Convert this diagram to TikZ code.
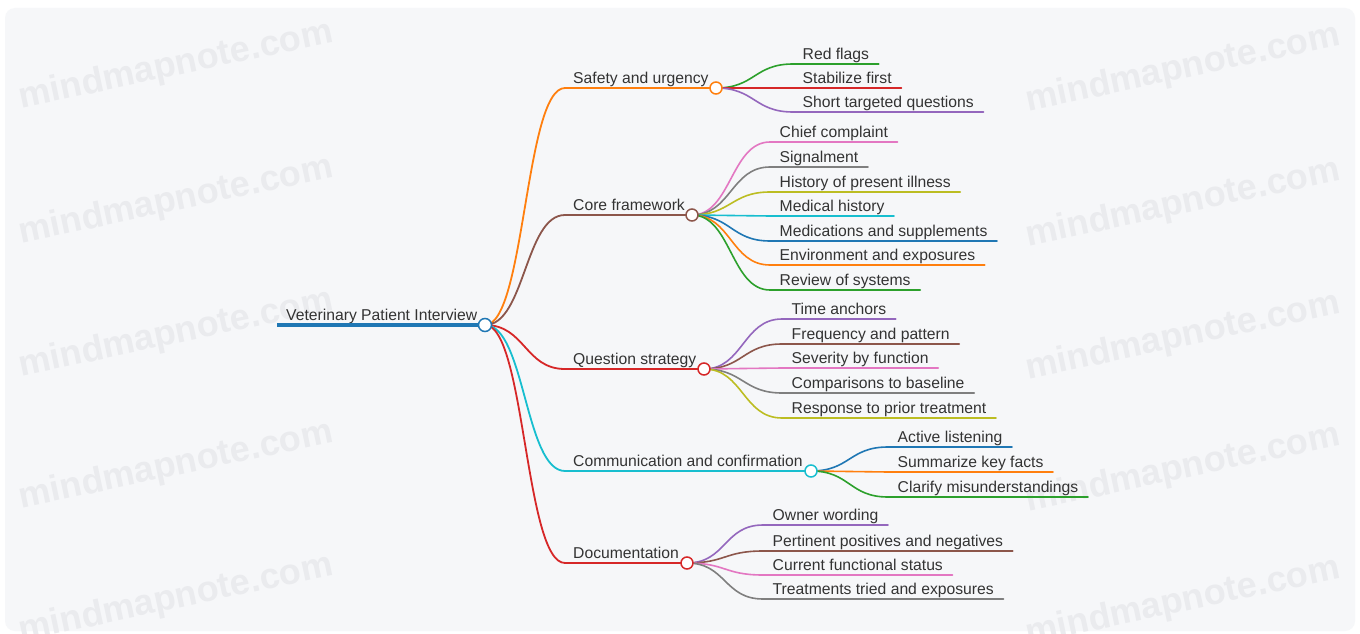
\documentclass[tikz,border=0pt]{standalone}
\usepackage{fontspec}
\setmainfont{Liberation Sans}
\definecolor{cblue}{HTML}{1F77B4}
\definecolor{corange}{HTML}{FF7F0E}
\definecolor{cgreen}{HTML}{2CA02C}
\definecolor{cred}{HTML}{D62728}
\definecolor{cpurple}{HTML}{9467BD}
\definecolor{cbrown}{HTML}{8C564B}
\definecolor{cpink}{HTML}{E377C2}
\definecolor{cgray}{HTML}{7F7F7F}
\definecolor{colive}{HTML}{BCBD22}
\definecolor{ccyan}{HTML}{17BECF}
\definecolor{txt}{HTML}{333333}
\definecolor{card}{HTML}{F6F7F9}
\definecolor{wmgray}{HTML}{EAEBEE}
\tikzset{
  leaf/.style={anchor=south west, inner xsep=9.5pt, inner ysep=4.5pt, text depth=0pt, text=txt, font=\fontsize{15.7}{18}\selectfont},
  topic/.style={leaf, inner xsep=8pt},
  dot/.style={circle, draw=#1, fill=white, line width=1.5pt, inner sep=0pt, minimum size=12pt},
  wmark/.style={text=wmgray, rotate=12, font=\bfseries\fontsize{36}{36}\selectfont},
}
\def\branch[#1](#2)(#3){\draw[#1] (#2) .. controls +(39,0) and +(-39,0) .. (#3.south west) -- (#3.south east);}
\def\topicline[#1](#2)(#3){\draw[#1] (root) .. controls +(40,0) and +(-40,0) .. (#2.south west) -- (#3);}

\begin{document}
\begin{tikzpicture}[x=1pt, y=-1pt, line cap=round]
		%%%%% START %%%%%
		\useasboundingbox (0,0) rectangle (1360,634);
		\fill[white] (0,0) rectangle (1360,634);
		\fill[card, rounded corners=10pt] (5,8) rectangle (1355,631);
		
		\node[wmark] (wm1) at (176,66) {mindmapnote.com};
		\node[wmark] (wm2) at (176,201) {mindmapnote.com};
		\node[wmark] (wm3) at (176,334) {mindmapnote.com};
		\node[wmark] (wm4) at (176,466) {mindmapnote.com};
		\node[wmark] (wm5) at (176,599) {mindmapnote.com};
		\node[wmark] (wm6) at (1183,69) {mindmapnote.com};
		\node[wmark] (wm7) at (1183,204) {mindmapnote.com};
		\node[wmark] (wm8) at (1183,337) {mindmapnote.com};
		\node[wmark] (wm9) at (1183,469) {mindmapnote.com};
		\node[wmark] (wm10) at (1183,602) {mindmapnote.com};
		
		% root
		\node[leaf, inner xsep=9pt, inner ysep=4pt] (title) at (277,325) {Veterinary Patient Interview};
		\coordinate (root) at (485,325);
		\draw[cblue, line width=4pt, line cap=butt] (title.south west) -- (root);
		
		% first level
		\node[topic] (safety) at (565,88) {Safety and urgency};
		\node[topic] (core) at (565,215) {Core framework};
		\node[topic] (question) at (565,369) {Question strategy};
		\node[topic] (comm) at (565,471) {Communication and confirmation};
		\node[topic] (docu) at (565,563) {Documentation};
		\coordinate (safetyDot) at (716,88);
		\coordinate (coreDot) at (692,215);
		\coordinate (questionDot) at (704,369);
		\coordinate (commDot) at (811,471);
		\coordinate (docuDot) at (687,563);
		
		\topicline[corange, line width=1.8pt](safety)(safetyDot);
		\topicline[cbrown, line width=1.8pt](core)(coreDot);
		\topicline[cred, line width=1.8pt](question)(questionDot);
		\topicline[ccyan, line width=1.8pt](comm)(commDot);
		\topicline[cred, line width=1.8pt](docu)(docuDot);
		
		% second level
		\node[leaf] (flags) at (793,64) {Red flags};
		\node[leaf] (stab) at (793,88) {Stabilize first};
		\node[leaf] (short) at (793,112) {Short targeted questions};
		\branch[cgreen, line width=1.6pt](safetyDot)(flags);
		\branch[cred, line width=1.6pt](safetyDot)(stab);
		\branch[cpurple, line width=1.6pt](safetyDot)(short);
		
		\node[leaf] (chief) at (770,142) {Chief complaint};
		\node[leaf] (signal) at (770,167) {Signalment};
		\node[leaf] (hpi) at (770,192) {History of present illness};
		\node[leaf] (medhx) at (770,216) {Medical history};
		\node[leaf] (meds) at (770,241) {Medications and supplements};
		\node[leaf] (env) at (770,265) {Environment and exposures};
		\node[leaf] (ros) at (770,290) {Review of systems};
		\branch[cpink, line width=1.6pt](coreDot)(chief);
		\branch[cgray, line width=1.6pt](coreDot)(signal);
		\branch[colive, line width=1.6pt](coreDot)(hpi);
		\branch[ccyan, line width=1.6pt](coreDot)(medhx);
		\branch[cblue, line width=1.6pt](coreDot)(meds);
		\branch[corange, line width=1.6pt](coreDot)(env);
		\branch[cgreen, line width=1.6pt](coreDot)(ros);
		
		\node[leaf] (anchors) at (782,319) {Time anchors};
		\node[leaf] (freq) at (782,344) {Frequency and pattern};
		\node[leaf] (sev) at (782,368) {Severity by function};
		\node[leaf] (comp) at (782,393) {Comparisons to baseline};
		\node[leaf] (resp) at (782,418) {Response to prior treatment};
		\branch[cpurple, line width=1.6pt](questionDot)(anchors);
		\branch[cbrown, line width=1.6pt](questionDot)(freq);
		\branch[cpink, line width=1.6pt](questionDot)(sev);
		\branch[cgray, line width=1.6pt](questionDot)(comp);
		\branch[colive, line width=1.6pt](questionDot)(resp);
		
		\node[leaf] (listen) at (888,447) {Active listening};
		\node[leaf] (summ) at (888,472) {Summarize key facts};
		\node[leaf] (clar) at (888,497) {Clarify misunderstandings};
		\branch[cblue, line width=1.6pt](commDot)(listen);
		\branch[corange, line width=1.6pt](commDot)(summ);
		\branch[cgreen, line width=1.6pt](commDot)(clar);
		
		\node[leaf] (owner) at (763,525) {Owner wording};
		\node[leaf] (pert) at (763,551) {Pertinent positives and negatives};
		\node[leaf] (func) at (763,575) {Current functional status};
		\node[leaf] (tried) at (763,599) {Treatments tried and exposures};
		\branch[cpurple, line width=1.6pt](docuDot)(owner);
		\branch[cbrown, line width=1.6pt](docuDot)(pert);
		\branch[cpink, line width=1.6pt](docuDot)(func);
		\branch[cgray, line width=1.6pt](docuDot)(tried);
		
		% dots on top
		\node[dot=cblue, minimum size=13pt] (rootC) at (root) {};
		\node[dot=corange] (safetyC) at (safetyDot) {};
		\node[dot=cbrown] (coreC) at (coreDot) {};
		\node[dot=cred] (questionC) at (questionDot) {};
		\node[dot=ccyan] (commC) at (commDot) {};
		\node[dot=cred] (docuC) at (docuDot) {};
		%%%%% END %%%%%
	\end{tikzpicture}
\end{document}
